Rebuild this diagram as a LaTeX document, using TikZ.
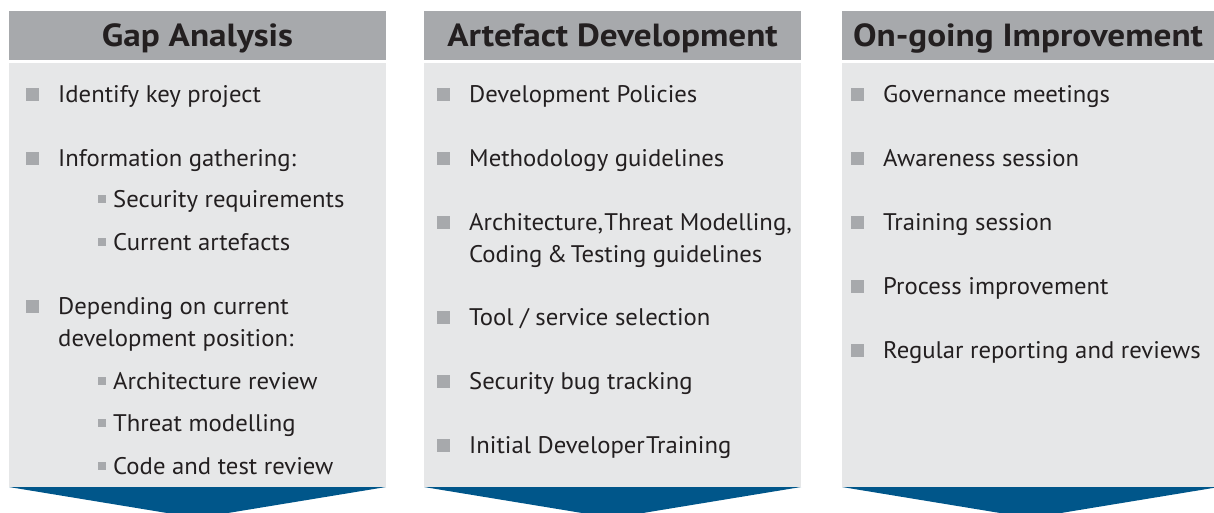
\documentclass[tikz,border=0pt]{standalone}
\usepackage{fontspec}
\setmainfont{PT Sans}
\newfontfamily\headfont[FakeStretch=1.1]{PT Sans}
\newfontfamily\itemfont[FakeStretch=1.03]{PT Sans}
\usetikzlibrary{positioning}
\definecolor{headgrey}{HTML}{A7A9AC}
\definecolor{bodygrey}{HTML}{E6E7E8}
\definecolor{flowblue}{HTML}{00568A}
\definecolor{inkgrey}{HTML}{231F20}
\tikzset{
	headbox/.style={fill=headgrey},
	bodybox/.style={fill=bodygrey},
	downarrow/.style={fill=flowblue},
	headtext/.style={inner sep=0pt, anchor=base, text=inkgrey, font=\headfont\fontsize{32}{36}\bfseries\selectfont},
	itemtext/.style={inner sep=0pt, anchor=base west, text=inkgrey, font=\itemfont\fontsize{24}{28}\selectfont},
	bigdot/.style={fill=headgrey, minimum size=13pt, inner sep=0pt, anchor=south west},
	smalldot/.style={fill=headgrey, minimum size=7.5pt, inner sep=0pt, anchor=south west}
}
\def\colitem(#1)(#2,#3)#4{\node[bigdot] (#1b) at (#2-32,#3-1) {}; \node[itemtext] (#1) at (#2,#3) {#4};}
\def\subitem(#1)(#2,#3)#4{\node[smalldot] (#1b) at (#2-15,#3-4) {}; \node[itemtext] (#1) at (#2,#3) {#4};}

\begin{document}
\begin{tikzpicture}[x=1pt,y=-1pt]
				\useasboundingbox (0,0) rectangle (1214,512);
				\clip (0,0) rectangle (1214,512);

				% gap analysis
				\fill[headbox] (9,11) rectangle (386,60);
				\fill[bodybox] (9,63) rectangle (386,487);
				\fill[downarrow] (9,487) -- (386,487) -- (197.5,518) -- cycle;
				\node[headtext] (gap) at (197.5,46) {Gap Analysis};
				\colitem(gapa)(58,102){Identify key project}
				\colitem(gapb)(58,166){Information gathering:}
				\subitem(gapc)(113,207){Security requirements}
				\subitem(gapd)(113,250){Current artefacts}
				\colitem(gape)(58,314){Depending on current}
				\node[itemtext] (gapf) at (58,346) {development position:};
				\subitem(gapg)(113,389){Architecture review}
				\subitem(gaph)(113,431){Threat modelling}
				\subitem(gapi)(113,474){Code and test review}

				% artefact development
				\fill[headbox] (424,11) rectangle (801,60);
				\fill[bodybox] (424,63) rectangle (801,487);
				\fill[downarrow] (424,487) -- (801,487) -- (612.5,518) -- cycle;
				\node[headtext] (art) at (612.5,46) {Artefact Development};
				\colitem(arta)(469,102){Development Policies}
				\colitem(artb)(469,166){Methodology guidelines}
				\colitem(artc)(469,230){Architecture,\hspace{0.05em}Threat Modelling,}
				\node[itemtext] (artd) at (469,262) {Coding\hspace{0.2em}\&\hspace{0.15em}Testing guidelines};
				\colitem(arte)(469,325){Tool / service selection}
				\colitem(artf)(469,389){Security bug tracking}
				\colitem(artg)(469,453){Initial Developer\hspace{0.05em}Training}

				% on-going improvement
				\fill[headbox] (842,11) rectangle (1219,60);
				\fill[bodybox] (842,63) rectangle (1219,487);
				\fill[downarrow] (842,487) -- (1219,487) -- (1030.5,518) -- cycle;
				\node[headtext] (imp) at (1028,46) {On-going Improvement};
				\colitem(impa)(883,102){Governance meetings}
				\colitem(impb)(883,166){Awareness session}
				\colitem(impc)(883,230){Training session}
				\colitem(impd)(883,294){Process improvement}
				\colitem(impe)(883,358){Regular reporting and reviews}
			\end{tikzpicture}
\end{document}
